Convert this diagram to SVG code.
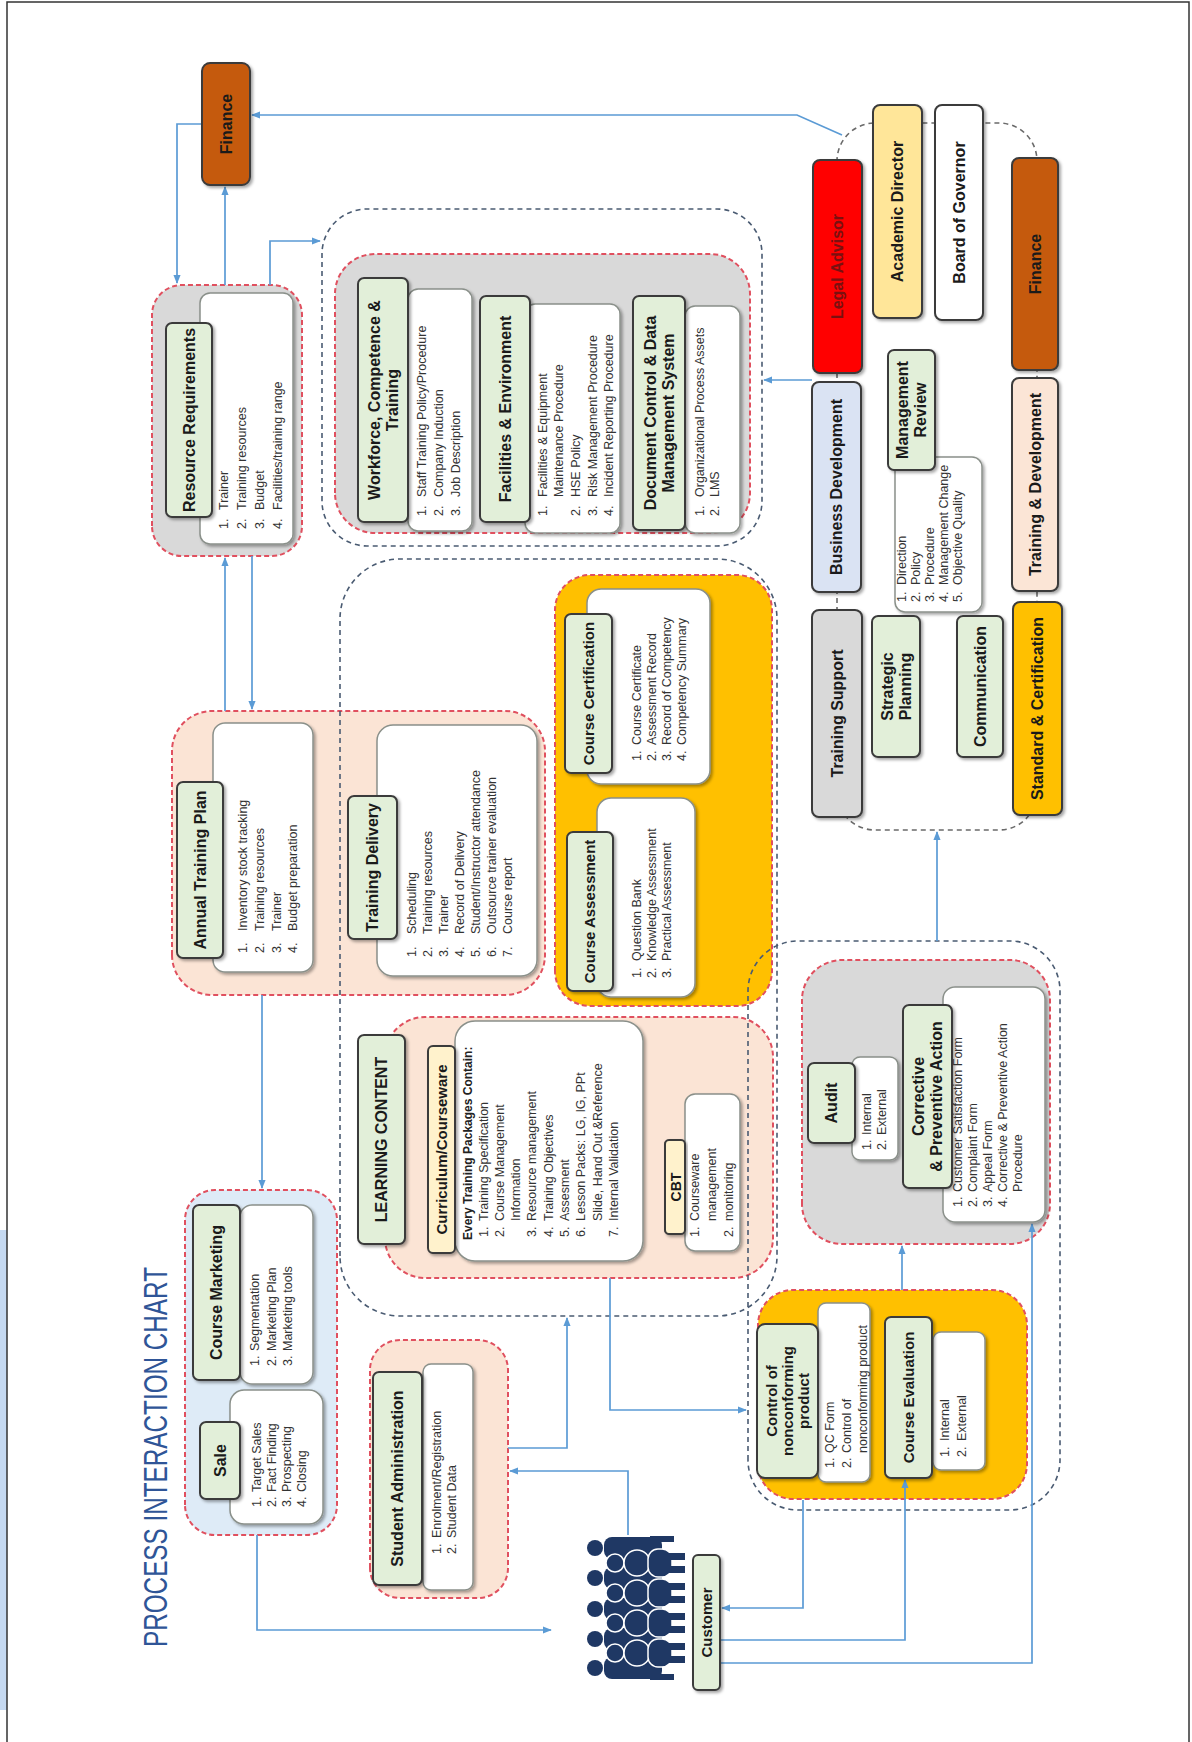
<svg xmlns="http://www.w3.org/2000/svg" width="1192" height="1742" viewBox="0 0 1192 1742">
<defs>
<style>
.hdr{fill:#E2EFD9;stroke:#3A3A3A;stroke-width:2;filter:url(#sh)}
.box{stroke:#3A3A3A;stroke-width:2;filter:url(#sh)}
.lst{fill:#FFFFFF;stroke:#8A908A;stroke-width:1.5;filter:url(#sh)}
.grp{stroke:#E0505F;stroke-width:2;stroke-dasharray:5 3}
.bd{fill:none;stroke:#4A5B72;stroke-width:1.6;stroke-dasharray:5 4}
.ex{fill:none;stroke:#6A6A6A;stroke-width:1.6;stroke-dasharray:5 4}
.con{fill:none;stroke:#5B9BD5;stroke-width:1.7;marker-end:url(#ar)}
.ht{font-family:"Liberation Sans",Arial,sans-serif;font-weight:bold;font-size:16px;fill:#1A1A1A;text-anchor:middle}
.h15{font-size:15px}
.lt{font-family:"Liberation Sans",Arial,sans-serif;font-size:12.5px;fill:#333333}
.pp{fill:#1F3864}
.pw{fill:#1F3864;stroke:#FFFFFF;stroke-width:1.5}
</style>
<filter id="sh" x="-10%" y="-10%" width="125%" height="125%">
<feDropShadow dx="-2" dy="2" stdDeviation="1.5" flood-color="#000000" flood-opacity="0.35"/>
</filter>
<marker id="ar" viewBox="0 0 10 10" refX="9" refY="5" markerWidth="9" markerHeight="9" markerUnits="userSpaceOnUse" orient="auto">
<path d="M0,1 L10,5 L0,9 z" fill="#5B9BD5"/>
</marker>
</defs>
<rect x="0" y="0" width="1192" height="1742" fill="#FFFFFF"/>
<rect x="0" y="1230" width="7" height="480" fill="#C5D9F1"/>
<rect x="7" y="2" width="1182" height="1760" fill="none" stroke="#333333" stroke-width="1.5"/>

<g transform="translate(0,1742) rotate(-90)">
<text id="title" x="95" y="167" textLength="380" lengthAdjust="spacingAndGlyphs" style="font-family:'Liberation Sans',Arial,sans-serif;font-size:33px;fill:#2F5597">PROCESS INTERACTION CHART</text>

<g id="groups">
<rect class="grp" x="1186" y="152" width="271" height="150" rx="30" fill="#D9D9D9"/>
<rect class="grp" x="1209" y="335" width="279" height="415" rx="40" fill="#D9D9D9"/>
<rect class="grp" x="747" y="172" width="284" height="373" rx="40" fill="#FBE4D5"/>
<rect class="grp" x="736" y="555" width="431" height="217" rx="35" fill="#FFC000"/>
<rect class="grp" x="464" y="385" width="261" height="388" rx="40" fill="#FBE4D5"/>
<rect class="grp" x="498" y="802" width="284" height="248" rx="40" fill="#D9D9D9"/>
<rect class="grp" x="243" y="758" width="209" height="269" rx="35" fill="#FFC000"/>
<rect class="grp" x="144" y="370" width="258" height="138" rx="30" fill="#FBE4D5"/>
<rect class="grp" x="207" y="185" width="345" height="152" rx="30" fill="#DEEBF7"/>
</g>

<g id="outlines">
<rect class="bd" x="1196" y="322" width="337" height="440" rx="45"/>
<rect class="bd" x="426" y="340" width="757" height="437" rx="60"/>
<rect class="bd" x="232" y="748" width="569" height="312" rx="50"/>
<rect class="ex" x="912" y="837" width="707" height="200" rx="38"/>
</g>

<g id="connectors">
<path class="con" d="M1618,202 L1618,177 L1459,177"/>
<path class="con" d="M1457,225 L1555,225"/>
<path class="con" d="M1457,270 L1501,270 L1501,320"/>
<path class="con" d="M1607,842 L1627,797 L1627,252"/>
<path class="con" d="M1362,812 L1362,764"/>
<path class="con" d="M1031,225 L1184,225"/>
<path class="con" d="M1186,252 L1033,252"/>
<path class="con" d="M747,262 L554,262"/>
<path class="con" d="M207,257 L112,257 L112,551"/>
<path class="con" d="M207,628 L271,628 L271,510"/>
<path class="con" d="M294,508 L294,567 L424,567"/>
<path class="con" d="M464,610 L332,610 L332,746"/>
<path class="con" d="M242,803 L134,803 L134,722"/>
<path class="con" d="M102,720 L102,905 L262,905"/>
<path class="con" d="M79,720 L79,1032 L518,1032"/>
<path class="con" d="M452,902 L496,902"/>
<path class="con" d="M801,937 L910,937"/>
</g>

<g id="finance-top">
<rect class="box" x="1557" y="202" width="122" height="48" rx="8" fill="#C55A11"/>
<text class="ht" x="1618" y="231.5">Finance</text>
</g>

<g id="resource-requirements">
<rect class="lst" x="1198" y="200" width="251" height="93" rx="10"/>
<rect class="hdr" x="1225" y="166" width="194" height="46" rx="6"/>
<text class="ht" x="1322" y="194.5">Resource Requirements</text>
<text class="lt" y="228"><tspan x="1213">1.</tspan><tspan x="1232">Trainer</tspan></text>
<text class="lt" y="246"><tspan x="1213">2.</tspan><tspan x="1232">Training resources</tspan></text>
<text class="lt" y="264"><tspan x="1213">3.</tspan><tspan x="1232">Budget</tspan></text>
<text class="lt" y="282"><tspan x="1213">4.</tspan><tspan x="1232">Facilities/training range</tspan></text>
</g>

<g id="workforce">
<rect class="lst" x="1211" y="408" width="242" height="64" rx="10"/>
<rect class="hdr" x="1220" y="358" width="244" height="50" rx="6"/>
<text class="ht" x="1342" y="379.5">Workforce, Competence &amp;<tspan x="1342" dy="18">Training</tspan></text>
<text class="lt" y="426"><tspan x="1226">1.</tspan><tspan x="1245">Staff Training Policy/Procedure</tspan></text>
<text class="lt" y="443"><tspan x="1226">2.</tspan><tspan x="1245">Company Induction</tspan></text>
<text class="lt" y="460"><tspan x="1226">3.</tspan><tspan x="1245">Job Description</tspan></text>
</g>

<g id="facilities">
<rect class="lst" x="1209" y="525" width="229" height="95" rx="10"/>
<rect class="hdr" x="1220" y="480" width="226" height="50" rx="6"/>
<text class="ht" x="1333" y="510.5">Facilities &amp; Environment</text>
<text class="lt" y="547"><tspan x="1226">1.</tspan><tspan x="1245">Facilities &amp; Equipment</tspan></text>
<text class="lt" y="563" x="1245">Maintenance Procedure</text>
<text class="lt" y="580"><tspan x="1226">2.</tspan><tspan x="1245">HSE Policy</tspan></text>
<text class="lt" y="597"><tspan x="1226">3.</tspan><tspan x="1245">Risk Management Procedure</tspan></text>
<text class="lt" y="613"><tspan x="1226">4.</tspan><tspan x="1245">Incident Reporting Procedure</tspan></text>
</g>

<g id="document-control">
<rect class="lst" x="1209" y="685" width="227" height="55" rx="10"/>
<rect class="hdr" x="1212" y="633" width="234" height="52" rx="6"/>
<text class="ht" x="1329" y="655.5">Document Control &amp; Data<tspan x="1329" dy="18">Management System</tspan></text>
<text class="lt" y="704"><tspan x="1226">1.</tspan><tspan x="1245">Organizational Process Assets</tspan></text>
<text class="lt" y="719"><tspan x="1226">2.</tspan><tspan x="1245">LMS</tspan></text>
</g>

<g id="business-development">
<rect class="box" x="1150" y="812" width="210" height="49" rx="7" fill="#DAE3F3"/>
<text class="ht" x="1255" y="842">Business Development</text>
</g>
<g id="legal-advisor">
<rect class="box" x="1369" y="813" width="213" height="49" rx="7" fill="#FF0000"/>
<text class="ht" x="1475.5" y="843" style="fill:#7A1010">Legal Advisor</text>
</g>
<g id="academic-director">
<rect class="box" x="1424" y="873" width="213" height="49" rx="7" fill="#FFE699"/>
<text class="ht" x="1530.5" y="903">Academic Director</text>
</g>
<g id="board-of-governor">
<rect class="box" x="1422" y="935" width="215" height="48" rx="7" fill="#FFFFFF"/>
<text class="ht" x="1529.5" y="964.5">Board of Governor</text>
</g>
<g id="finance-exec">
<rect class="box" x="1372" y="1012" width="212" height="46" rx="7" fill="#C55A11"/>
<text class="ht" x="1478" y="1040.5">Finance</text>
</g>
<g id="training-development">
<rect class="box" x="1151" y="1012" width="213" height="46" rx="7" fill="#FBE5D6"/>
<text class="ht" x="1257.5" y="1040.5">Training &amp; Development</text>
</g>
<g id="management-review">
<rect class="lst" x="1130" y="895" width="155" height="87" rx="10"/>
<rect class="hdr" x="1272" y="888" width="120" height="47" rx="6"/>
<text class="ht" x="1332" y="908">Management<tspan x="1332" dy="18">Review</tspan></text>
<text class="lt" y="906"><tspan x="1140">1.</tspan><tspan x="1157">Direction</tspan></text>
<text class="lt" y="920"><tspan x="1140">2.</tspan><tspan x="1157">Policy</tspan></text>
<text class="lt" y="934"><tspan x="1140">3.</tspan><tspan x="1157">Procedure</tspan></text>
<text class="lt" y="948"><tspan x="1140">4.</tspan><tspan x="1157">Management Change</tspan></text>
<text class="lt" y="962"><tspan x="1140">5.</tspan><tspan x="1157">Objective Quality</tspan></text>
</g>
<g id="training-support">
<rect class="box" x="925" y="812" width="207" height="50" rx="7" fill="#D9D9D9"/>
<text class="ht" x="1028.5" y="842.5">Training Support</text>
</g>
<g id="strategic-planning">
<rect class="hdr" x="985" y="872" width="141" height="48" rx="6"/>
<text class="ht" x="1055.5" y="892.5">Strategic<tspan x="1055.5" dy="18">Planning</tspan></text>
</g>
<g id="communication">
<rect class="hdr" x="985" y="957" width="141" height="46" rx="6"/>
<text class="ht" x="1055.5" y="985.5">Communication</text>
</g>
<g id="standard-certification">
<rect class="box" x="927" y="1013" width="213" height="49" rx="7" fill="#FFC000"/>
<text class="ht" x="1033.5" y="1043">Standard &amp; Certification</text>
</g>

<g id="annual-training-plan">
<rect class="lst" x="770" y="213" width="249" height="100" rx="12"/>
<rect class="hdr" x="784" y="177" width="176" height="46" rx="6"/>
<text class="ht" x="872" y="205.5">Annual Training Plan</text>
<text class="lt" y="247"><tspan x="789">1.</tspan><tspan x="811">Inventory stock tracking</tspan></text>
<text class="lt" y="264"><tspan x="789">2.</tspan><tspan x="811">Training resources</tspan></text>
<text class="lt" y="281"><tspan x="789">3.</tspan><tspan x="811">Trainer</tspan></text>
<text class="lt" y="297"><tspan x="789">4.</tspan><tspan x="811">Budget preparation</tspan></text>
</g>

<g id="training-delivery">
<rect class="lst" x="766" y="377" width="251" height="160" rx="16"/>
<rect class="hdr" x="803" y="348" width="143" height="49" rx="6"/>
<text class="ht" x="874.5" y="378">Training Delivery</text>
<text class="lt" y="416"><tspan x="785">1.</tspan><tspan x="808">Scheduling</tspan></text>
<text class="lt" y="432"><tspan x="785">2.</tspan><tspan x="808">Training resources</tspan></text>
<text class="lt" y="448"><tspan x="785">3.</tspan><tspan x="808">Trainer</tspan></text>
<text class="lt" y="464"><tspan x="785">4.</tspan><tspan x="808">Record of Delivery</tspan></text>
<text class="lt" y="480"><tspan x="785">5.</tspan><tspan x="808">Student/Instructor attendance</tspan></text>
<text class="lt" y="496"><tspan x="785">6.</tspan><tspan x="808">Outsource trainer evaluation</tspan></text>
<text class="lt" y="512"><tspan x="785">7.</tspan><tspan x="808">Course report</tspan></text>
</g>

<g id="course-certification">
<rect class="lst" x="958" y="587" width="195" height="123" rx="14"/>
<rect class="hdr" x="969" y="565" width="159" height="47" rx="6"/>
<text class="ht h15" x="1048.5" y="594">Course Certification</text>
<text class="lt" y="641"><tspan x="981">1.</tspan><tspan x="997">Course Certificate</tspan></text>
<text class="lt" y="656"><tspan x="981">2.</tspan><tspan x="997">Assessment Record</tspan></text>
<text class="lt" y="671"><tspan x="981">3.</tspan><tspan x="997">Record of Competency</tspan></text>
<text class="lt" y="686"><tspan x="981">4.</tspan><tspan x="997">Competency Summary</tspan></text>
</g>

<g id="course-assessment">
<rect class="lst" x="745" y="597" width="199" height="98" rx="14"/>
<rect class="hdr" x="751" y="567" width="159" height="46" rx="6"/>
<text class="ht h15" x="830.5" y="595">Course Assessment</text>
<text class="lt" y="641"><tspan x="764">1.</tspan><tspan x="781">Question Bank</tspan></text>
<text class="lt" y="656"><tspan x="764">2.</tspan><tspan x="781">Knowledge Assessment</tspan></text>
<text class="lt" y="671"><tspan x="764">3.</tspan><tspan x="781">Practical Assessment</tspan></text>
</g>

<g id="learning-content">
<rect class="hdr" x="498" y="358" width="209" height="47" rx="6"/>
<text class="ht" x="602.5" y="387">LEARNING CONTENT</text>
</g>

<g id="curriculum">
<rect class="lst" x="481" y="455" width="240" height="188" rx="20"/>
<rect class="box" x="489" y="428" width="207" height="27" rx="5" fill="#FFF2CC"/>
<text class="ht h15" x="592.5" y="447">Curriculum/Courseware</text>
<text class="lt" x="502" y="472" style="font-weight:bold;font-size:12px;fill:#222">Every Training Packages Contain:</text>
<text class="lt" y="488"><tspan x="505">1.</tspan><tspan x="521">Training Specification</tspan></text>
<text class="lt" y="504"><tspan x="505">2.</tspan><tspan x="521">Course Management</tspan></text>
<text class="lt" y="520" x="521">Information</text>
<text class="lt" y="536"><tspan x="505">3.</tspan><tspan x="521">Resource management</tspan></text>
<text class="lt" y="553"><tspan x="505">4.</tspan><tspan x="521">Training Objectives</tspan></text>
<text class="lt" y="569"><tspan x="505">5.</tspan><tspan x="521">Assesment</tspan></text>
<text class="lt" y="585"><tspan x="505">6.</tspan><tspan x="521">Lesson Packs: LG, IG, PPt</tspan></text>
<text class="lt" y="602" x="521">Slide, Hand Out &amp;Reference</text>
<text class="lt" y="618"><tspan x="505">7.</tspan><tspan x="521">Internal Validation</tspan></text>
</g>

<g id="cbt">
<rect class="lst" x="491" y="685" width="157" height="55" rx="10"/>
<rect class="box" x="508" y="665" width="94" height="20" rx="4" fill="#FFF2CC"/>
<text class="ht" x="555" y="680.5" style="font-size:14px">CBT</text>
<text class="lt" y="699"><tspan x="505">1.</tspan><tspan x="521">Courseware</tspan></text>
<text class="lt" y="716" x="521">management</text>
<text class="lt" y="733"><tspan x="505">2.</tspan><tspan x="521">monitoring</tspan></text>
</g>

<g id="audit">
<rect class="lst" x="582" y="852" width="103" height="46" rx="8"/>
<rect class="hdr" x="599" y="808" width="80" height="47" rx="6"/>
<text class="ht" x="639" y="837">Audit</text>
<text class="lt" y="871"><tspan x="592">1.</tspan><tspan x="607">Internal</tspan></text>
<text class="lt" y="886"><tspan x="592">2.</tspan><tspan x="607">External</tspan></text>
</g>

<g id="corrective-preventive">
<rect class="lst" x="520" y="943" width="235" height="102" rx="12"/>
<rect class="hdr" x="554" y="903" width="183" height="49" rx="6"/>
<text class="ht" x="645.5" y="924">Corrective<tspan x="645.5" dy="18">&amp; Preventive Action</tspan></text>
<text class="lt" y="962"><tspan x="535">1.</tspan><tspan x="550">Customer Satisfaction Form</tspan></text>
<text class="lt" y="977"><tspan x="535">2.</tspan><tspan x="550">Complaint Form</tspan></text>
<text class="lt" y="992"><tspan x="535">3.</tspan><tspan x="550">Appeal Form</tspan></text>
<text class="lt" y="1007"><tspan x="535">4.</tspan><tspan x="550">Corrective &amp; Preventive Action</tspan></text>
<text class="lt" y="1022" x="550">Procedure</text>
</g>

<g id="control-nonconforming">
<rect class="lst" x="260" y="818" width="179" height="52" rx="8"/>
<rect class="hdr" x="264" y="757" width="154" height="61" rx="8"/>
<text class="ht h15" x="341" y="776.5">Control of<tspan x="341" dy="16">nonconforming</tspan><tspan x="341" dy="16">product</tspan></text>
<text class="lt" y="834"><tspan x="274">1.</tspan><tspan x="289">QC Form</tspan></text>
<text class="lt" y="851"><tspan x="274">2.</tspan><tspan x="289">Control of</tspan></text>
<text class="lt" y="867" x="289">nonconforming product</text>
</g>

<g id="course-evaluation">
<rect class="lst" x="272" y="933" width="138" height="52" rx="8"/>
<rect class="hdr" x="264" y="885" width="161" height="47" rx="6"/>
<text class="ht h15" x="344.5" y="914">Course Evaluation</text>
<text class="lt" y="949"><tspan x="285">1.</tspan><tspan x="301">Internal</tspan></text>
<text class="lt" y="966"><tspan x="285">2.</tspan><tspan x="301">External</tspan></text>
</g>

<g id="student-administration">
<rect class="lst" x="152" y="423" width="226" height="50" rx="8"/>
<rect class="hdr" x="157" y="373" width="213" height="49" rx="6"/>
<text class="ht" x="263.5" y="403">Student Administration</text>
<text class="lt" y="441"><tspan x="188">1.</tspan><tspan x="204">Enrolment/Registration</tspan></text>
<text class="lt" y="456"><tspan x="188">2.</tspan><tspan x="204">Student Data</tspan></text>
</g>

<g id="course-marketing">
<rect class="lst" x="358" y="240" width="179" height="73" rx="12"/>
<rect class="hdr" x="362" y="193" width="175" height="47" rx="6"/>
<text class="ht" x="449.5" y="222">Course Marketing</text>
<text class="lt" y="259"><tspan x="376">1.</tspan><tspan x="391">Segmentation</tspan></text>
<text class="lt" y="276"><tspan x="376">2.</tspan><tspan x="391">Marketing Plan</tspan></text>
<text class="lt" y="292"><tspan x="376">3.</tspan><tspan x="391">Marketing tools</tspan></text>
</g>

<g id="sale">
<rect class="lst" x="218" y="230" width="134" height="93" rx="14"/>
<rect class="hdr" x="243" y="200" width="77" height="40" rx="6"/>
<text class="ht" x="281.5" y="225.5">Sale</text>
<text class="lt" y="261"><tspan x="235">1.</tspan><tspan x="250">Target Sales</tspan></text>
<text class="lt" y="276"><tspan x="235">2.</tspan><tspan x="250">Fact Finding</tspan></text>
<text class="lt" y="291"><tspan x="235">3.</tspan><tspan x="250">Prospecting</tspan></text>
<text class="lt" y="306"><tspan x="235">4.</tspan><tspan x="250">Closing</tspan></text>
</g>

<g id="customer">
<g id="people">
<circle class="pp" cx="194" cy="595" r="8"/>
<circle class="pp" cx="164" cy="595" r="8"/>
<circle class="pp" cx="133" cy="595" r="8"/>
<circle class="pp" cx="103" cy="595" r="8"/>
<circle class="pp" cx="74" cy="595" r="8"/>
<rect class="pp" x="183" y="604" width="22" height="58" rx="8"/>
<rect class="pp" x="153" y="604" width="22" height="58" rx="8"/>
<rect class="pp" x="122" y="604" width="22" height="58" rx="8"/>
<rect class="pp" x="92" y="604" width="22" height="58" rx="8"/>
<rect class="pp" x="63" y="604" width="22" height="58" rx="8"/>
<rect class="pp" x="200" y="650" width="6" height="24"/>
<rect class="pp" x="62" y="650" width="6" height="24"/>
<circle class="pw" cx="179" cy="615" r="9"/>
<circle class="pw" cx="149" cy="615" r="9"/>
<circle class="pw" cx="119" cy="615" r="9"/>
<circle class="pw" cx="89" cy="615" r="9"/>
<circle class="pw" cx="179" cy="637" r="13"/>
<circle class="pw" cx="149" cy="637" r="13"/>
<circle class="pw" cx="119" cy="637" r="13"/>
<circle class="pw" cx="89" cy="637" r="13"/>
<rect class="pw" x="165" y="648" width="28" height="24" rx="10"/>
<rect class="pw" x="135" y="648" width="28" height="24" rx="10"/>
<rect class="pw" x="105" y="648" width="28" height="24" rx="10"/>
<rect class="pw" x="75" y="648" width="28" height="24" rx="10"/>
<rect class="pp" x="169" y="668" width="7" height="17"/>
<rect class="pp" x="182" y="668" width="7" height="17"/>
<rect class="pp" x="139" y="668" width="7" height="17"/>
<rect class="pp" x="152" y="668" width="7" height="17"/>
<rect class="pp" x="109" y="668" width="7" height="17"/>
<rect class="pp" x="122" y="668" width="7" height="17"/>
<rect class="pp" x="79" y="668" width="7" height="17"/>
<rect class="pp" x="92" y="668" width="7" height="17"/>
</g>
<rect class="hdr" x="52" y="693" width="135" height="27" rx="5"/>
<text class="ht" x="119.5" y="711.5" style="font-size:15px">Customer</text>
</g>
</g>
</svg>
